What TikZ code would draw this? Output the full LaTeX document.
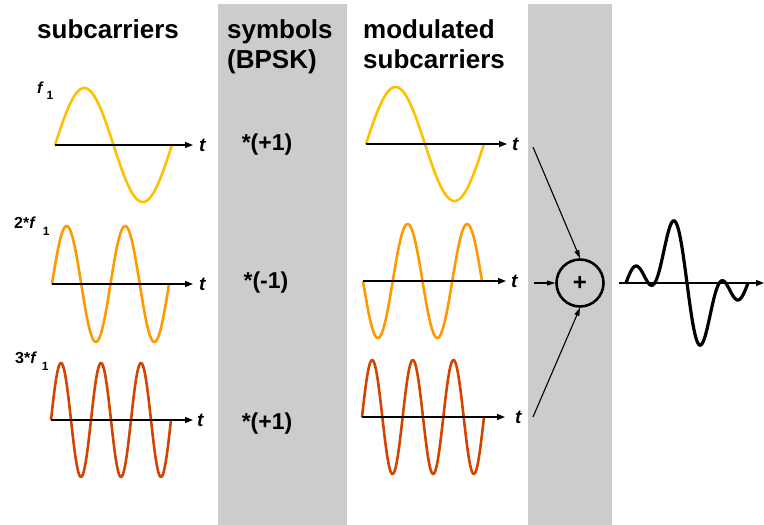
\documentclass[tikz,border=0pt]{standalone}
\usepackage{fontspec}
\setmainfont{Liberation Sans}
\usepackage{xcolor}
\usetikzlibrary{arrows.meta,positioning}
\definecolor{band}{RGB}{204,204,204}
\definecolor{subone}{RGB}{255,192,0}
\definecolor{subtwo}{RGB}{255,153,0}
\definecolor{subthree}{RGB}{210,68,0}
\tikzset{
  title/.style={font=\fontsize{26}{30}\selectfont\bfseries,align=left,inner sep=0pt,anchor=base west},
  sym/.style={font=\fontsize{23}{27}\selectfont\bfseries,inner sep=0pt},
  flab/.style={font=\fontsize{16}{19}\selectfont\bfseries,inner sep=0pt,anchor=base west},
  tlab/.style={font=\fontsize{19}{22}\selectfont\bfseries\itshape,inner sep=0pt},
  axis/.style={-{Triangle[length=8pt,width=6pt]},line width=1.4pt},
  wave/.style={line width=2.6pt,color=#1,line join=round},
  feed/.style={-{Triangle[length=8pt,width=5pt]},line width=1.1pt},
  sumnode/.style={circle,draw,line width=2.6pt,minimum size=47pt,inner sep=0pt,
                  font=\fontsize{24}{26}\selectfont\bfseries},
}

\begin{document}
\begin{tikzpicture}[x=1pt,y=-1pt]
  \useasboundingbox (0,0) rectangle (764,525);

  % --- grey bands ---
  \fill[band] (218,4) rectangle (347,525);
  \fill[band] (528,4) rectangle (612,525);

  % --- headings ---
  \node[title] (hsub) at (37,38) {subcarriers};
  \node[title] (hsym) at (227,68) {symbols\\(BPSK)};
  \node[title] (hmod) at (363,68) {modulated\\subcarriers};

  % --- subcarriers ---
  \node[flab] (lf1) at (37,93) {\textit{f}\,\raisebox{-6pt}{\fontsize{12}{14}\selectfont 1}};
  \node[flab] (lf2) at (14,228) {2*\textit{f}\hspace{7pt}\raisebox{-7pt}{\fontsize{12}{14}\selectfont 1}};
  \node[flab] (lf3) at (15,363) {3*\textit{f}\hspace{5pt}\raisebox{-7pt}{\fontsize{12}{14}\selectfont 1}};

  \coordinate (a1) at (55,145);  \coordinate (e1) at (193,145);
  \coordinate (a2) at (52,284);  \coordinate (e2) at (193,284);
  \coordinate (a3) at (51,420);  \coordinate (e3) at (193,420);
  \node[tlab, right=6pt of e1] (t1) {t};
  \node[tlab, right=6pt of e2] (t2) {t};
  \node[tlab, right=4pt of e3] (t3) {t};

  \draw[wave=subone] plot[domain=0:360,samples=90,smooth] ({55+\x/360*117},{145-57*sin(\x)});
  \draw[wave=subtwo] plot[domain=0:720,samples=120,smooth] ({52+\x/720*117},{284-58*sin(\x)});
  \draw[wave=subthree] plot[domain=0:1080,samples=160,smooth] ({51+\x/1080*120},{420-57*sin(\x)});
  \draw[axis] (a1) -- (e1);
  \draw[axis] (a2) -- (e2);
  \draw[axis] (a3) -- (e3);

  % --- symbols ---
  \node[sym] (s1) at (267,145) {*(+1)};
  \node[sym] (s2) at (266,283) {*(-1)};
  \node[sym] (s3) at (267,424) {*(+1)};

  % --- modulated subcarriers ---
  \coordinate (m1) at (366,144); \coordinate (n1) at (507,144);
  \coordinate (m2) at (363,281); \coordinate (n2) at (506,281);
  \coordinate (m3) at (362,417); \coordinate (n3) at (505,417);
  \node[tlab, right=5pt of n1] (u1) {t};
  \node[tlab, right=5pt of n2] (u2) {t};
  \node[tlab, right=10pt of n3] (u3) {t};

  \draw[wave=subone] plot[domain=0:360,samples=90,smooth] ({366+\x/360*118},{144-57*sin(\x)});
  \draw[wave=subtwo] plot[domain=0:720,samples=120,smooth] ({363+\x/720*119},{281+57*sin(\x)});
  \draw[wave=subthree] plot[domain=0:1080,samples=160,smooth] ({362+\x/1080*122},{417-57*sin(\x)});
  \draw[axis] (m1) -- (n1);
  \draw[axis] (m2) -- (n2);
  \draw[axis] (m3) -- (n3);

  % --- summation ---
  \node[sumnode] (sum) at (580,283) {+};
  \coordinate (f1) at (533,147);
  \coordinate (f2) at (534,283);
  \coordinate (f3) at (533,417);
  \draw[feed] (f1) -- (sum.north);
  \draw[feed] (f2) -- (sum.west);
  \draw[feed] (f3) -- (sum.south);

  % --- OFDM signal ---
  \coordinate (o1) at (619,283);
  \coordinate (o2) at (764,283);
  \draw[axis] (o1) -- (o2);
  \draw[line width=3.2pt,line join=round] plot[domain=0:360,samples=140,smooth]
    ({626+\x/360*122},{283-24*(1.15*sin(\x)-sin(2*\x)+sin(3*\x))});
\end{tikzpicture}
\end{document}
